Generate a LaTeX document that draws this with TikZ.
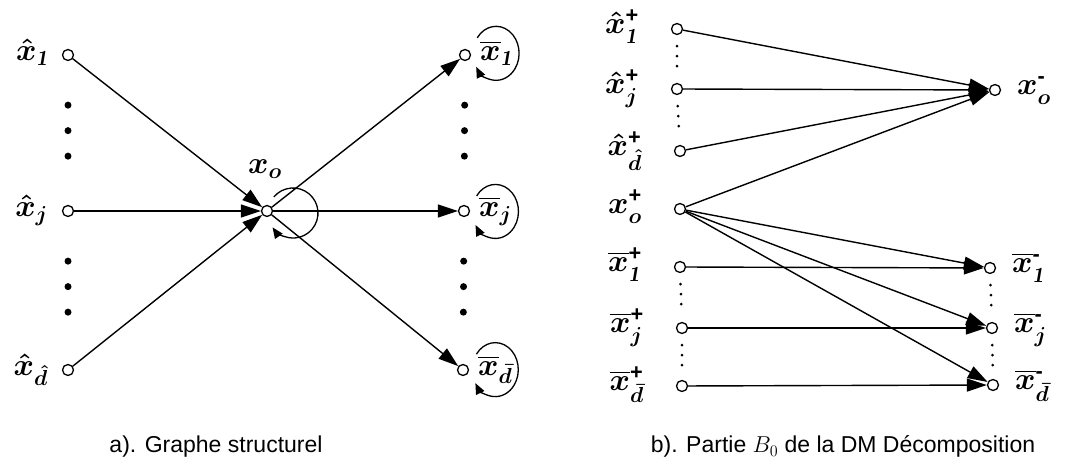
\RequirePackage{fix-cm}
\documentclass[tikz,border=0pt]{standalone}
\usepackage{amsmath,amssymb}
\usepackage{fontspec}
\setsansfont{Liberation Sans}
\usepackage{tikz}
\usetikzlibrary{positioning,calc,arrows.meta}

\newcommand{\sgp}{\text{\sffamily\bfseries +}}
\newcommand{\sgm}{\text{\sffamily\bfseries -}}

\begin{document}
\begin{tikzpicture}[x=1pt,y=1pt,
    vtx/.style={circle,draw,fill=white,line width=1.3pt,minimum size=11pt,inner sep=0pt},
    edge/.style={line width=1.4pt,-{Triangle[length=20pt,width=13pt]}},
    selfloop/.style={line width=1.3pt,-{Triangle[length=11pt,width=9pt]}},
    bigdots/.style={line width=7pt,line cap=round,dash pattern=on 0pt off 25.5pt,shorten <=44pt,shorten >=44pt},
    smalldots/.style={line width=3pt,line cap=round,dash pattern=on 0pt off 10pt,shorten <=11pt,shorten >=12pt},
    lbl/.style={inner sep=0pt,font=\fontsize{31}{36}\selectfont\boldmath},
    captxt/.style={inner sep=0pt,font=\fontsize{23}{27}\sffamily}]
    \useasboundingbox (0,0) rectangle (1066,468);

    % a) Graphe structurel
    \node[vtx] (xo) at (267,257) {};
    \node[lbl,anchor=base] (xol) at (265,294) {$x_o$};
    \draw[selfloop] ($(xo)+(26,-2)+(140:25)$) arc[start angle=140,end angle=-145,radius=25];

    \foreach \y/\n/\s in {413/h1/\mathit{1}, 257/hj/j, 98/hd/\hat{d}} {
        \node[vtx] (\n) at (68,\y) {};
        \node[lbl,anchor=base east] (\n l) at (48,\y-6) {$\hat{x}_{\s}$};
        \draw[edge] (\n) -- (xo);
    }
    \foreach \x/\y/\n/\s in {465/413/b1/\mathit{1}, 464/257/bj/j, 463/98/bd/\bar{d}} {
        \node[vtx] (\n) at (\x,\y) {};
        \node[lbl,anchor=base west] (\n l) at (\x+15,\y-6) {$\overline{x}_{\s}$};
        \draw[edge] (xo) -- (\n);
        \draw[selfloop] ([shift={(145:23 and 27)}]\n l.center) arc[start angle=145,end angle=-150,x radius=23,y radius=27];
    }
    \draw[bigdots] (h1) -- (hj);
    \draw[bigdots] (hj) -- (hd);
    \draw[bigdots] (b1) -- (bj);
    \draw[bigdots] (bj) -- (bd);

    % b) Partie B0
    \foreach \x/\y/\n/\t in {677/439/h1p/\hat{x}^{\sgp}_{\mathit{1}}, 677/379/hjp/\hat{x}^{\sgp}_{j}, 680/317/hdp/\hat{x}^{\sgp}_{\hat{d}},
        680/259/xop/x^{\sgp}_{o}, 680/201/b1p/\overline{x}^{\sgp}_{\mathit{1}}, 682/140/bjp/\overline{x}^{\sgp}_{j}, 682/82/bdp/\overline{x}^{\sgp}_{\bar{d}}} {
        \node[vtx] (\n) at (\x,\y) {};
        \node[lbl,anchor=base east] (\n l) at (\x-38,\y-5) {$\t$};
    }
    \foreach \x/\y/\n/\t in {995/378/xom/x^{\sgm}_{o}, 990/200/b1m/\overline{x}^{\sgm}_{\mathit{1}}, 992/140/bjm/\overline{x}^{\sgm}_{j}, 993/83/bdm/\overline{x}^{\sgm}_{\bar{d}}} {
        \node[vtx] (\n) at (\x,\y) {};
        \node[lbl,anchor=base west] (\n l) at (\x+22,\y-5) {$\t$};
    }
    \foreach \a in {h1p,hjp,hdp,xop}
        \draw[edge] (\a) -- (xom);
    \foreach \a/\b in {xop/b1m, xop/bjm, xop/bdm, b1p/b1m, bjp/bjm, bdp/bdm}
        \draw[edge] (\a) -- (\b);
    \foreach \a/\b in {h1p/hjp, hjp/hdp, b1p/bjp, bjp/bdp, b1m/bjm, bjm/bdm}
        \draw[smalldots] (\a) -- (\b);

    % Captions
    \node[captxt,anchor=base] (capa) at (216,15) {a). Graphe structurel};
    \node[captxt,anchor=base] (capb) at (843,15) {b). Partie $B_0$ de la DM Décomposition};
\end{tikzpicture}
\end{document}
